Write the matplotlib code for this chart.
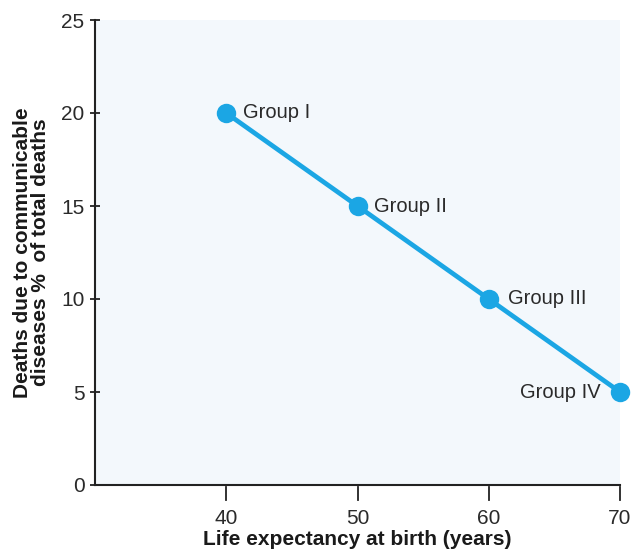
import matplotlib
matplotlib.use("Agg")
import matplotlib.pyplot as plt
import matplotlib.transforms as mtransforms

plt.rcParams['font.family'] = ['Liberation Sans', 'DejaVu Sans']

life_expectancy = [40, 50, 60, 70]
deaths_pct = [20, 15, 10, 5]
group_labels = ["Group I", "Group II", "Group III", "Group IV"]
x_ticks = [40, 50, 60, 70]
y_ticks = [0, 5, 10, 15, 20, 25]

fig = plt.figure(figsize=(6.34, 5.55), dpi=100)
ax = fig.add_axes([95/634, 70/555, (620-95)/634, (535-70)/555])
ax.set_facecolor('#f3f8fc')
ax.set_xlim(30, 70)
ax.set_ylim(0, 25)

for s in ['top', 'right']:
    ax.spines[s].set_visible(False)
for s in ['left', 'bottom']:
    ax.spines[s].set_linewidth(1.5)
    ax.spines[s].set_color('#222222')

line_color = '#1ba6e4'
ax.plot(life_expectancy, deaths_pct, color=line_color, lw=3.4, marker='o',
        markersize=14, markeredgewidth=0, clip_on=False, zorder=3)

offsets = [(12, 0, 'left'), (12, 0, 'left'), (14, 0, 'left'), (-14, 0, 'right')]
for x, y, lab, (dx, dy, ha) in zip(life_expectancy, deaths_pct, group_labels, offsets):
    ax.annotate(lab, (x, y), xytext=(dx, dy), textcoords='offset points',
                ha=ha, va='center', fontsize=14.5, color='#2a2a2a')

ax.set_yticks(y_ticks)
ax.set_yticklabels([str(v) for v in y_ticks], fontsize=15, color='#2a2a2a')
ax.tick_params(axis='y', direction='inout', length=7, width=1.3, pad=4, color='#222222')

ax.set_xticks(x_ticks)
ax.set_xticklabels([str(v) for v in x_ticks], fontsize=15, color='#2a2a2a')
ax.tick_params(axis='x', length=0, pad=17)
trans = mtransforms.blended_transform_factory(ax.transData, ax.transAxes)
for xt in x_ticks:
    ax.plot([xt, xt], [-0.004, -0.032], transform=trans, color='#222222', lw=1.3, clip_on=False)

ax.set_xlabel('Life expectancy at birth (years)', fontsize=15, fontweight='bold', labelpad=2,
              color='#1a1a1a')
ax.set_ylabel('Deaths due to communicable\ndiseases %  of total deaths', fontsize=15,
              fontweight='bold', labelpad=8, linespacing=0.95, color='#1a1a1a')

fig.savefig('out.png', dpi=100)
